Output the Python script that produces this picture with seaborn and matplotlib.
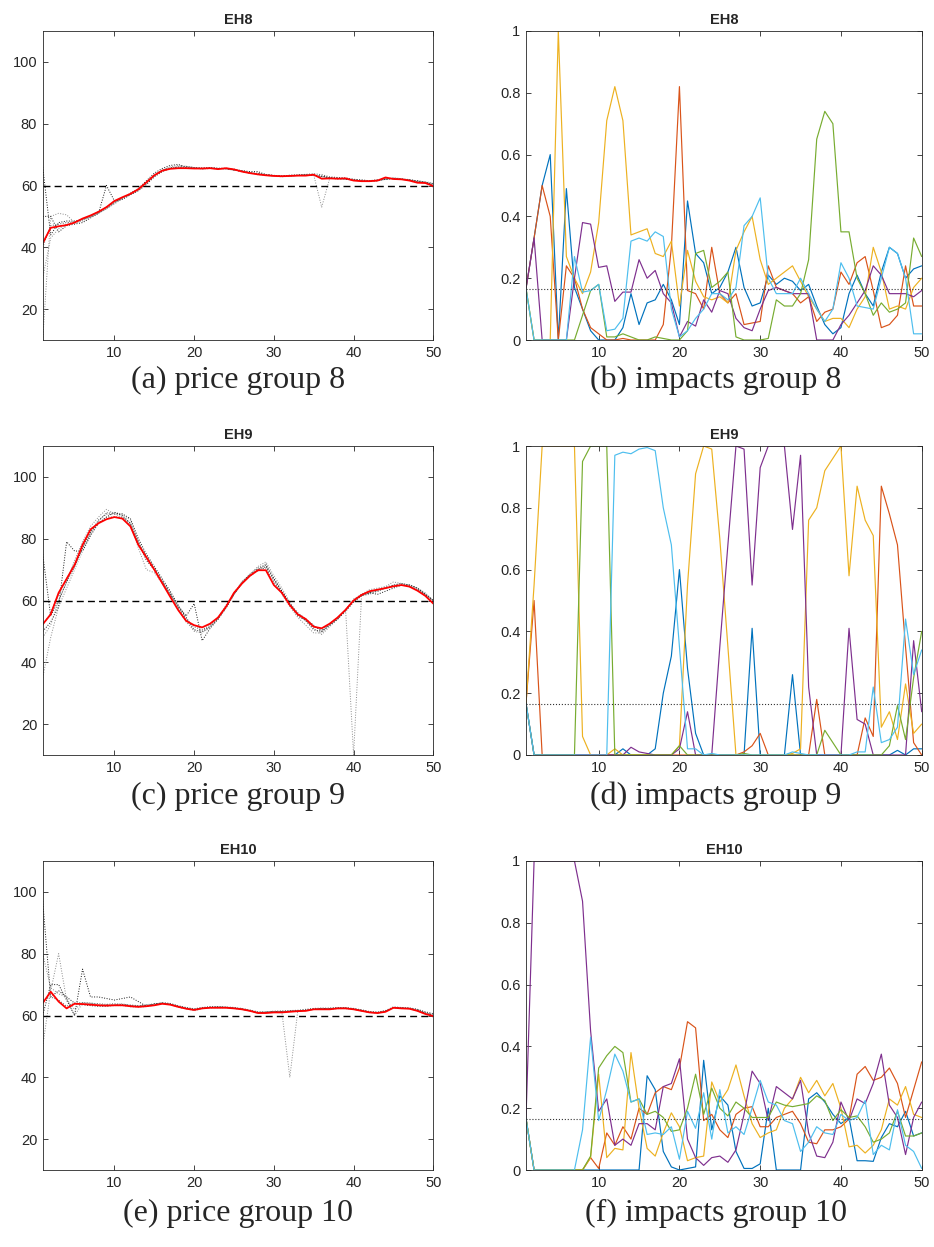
import numpy as np
import pandas as pd
import matplotlib
matplotlib.use("Agg")
import matplotlib.pyplot as plt
import seaborn as sns

# ---------------- data ----------------
periods = list(range(1, 51))
groups = ["EH8", "EH9", "EH10"]
captions_price = ["(a) price group 8", "(c) price group 9", "(e) price group 10"]
captions_imp = ["(b) impacts group 8", "(d) impacts group 9", "(f) impacts group 10"]
target_price = 60
equal_share = 1 / 6

# realised price (red) per group
price_eh8 = [41.3, 46.3, 46.8, 47.2, 48, 49.3, 50.3, 51.5, 53, 55,
             56.2, 57.3, 58.8, 61, 63.3, 64.8, 65.4, 65.6, 65.6, 65.5,
             65.5, 65.6, 65.3, 65.6, 65.2, 64.5, 64, 63.6, 63.3, 63.1,
             63, 63.1, 63.2, 63.2, 63.5, 62.2, 62.3, 62.2, 62.3, 61.6,
             61.4, 61.4, 61.6, 62.6, 62.1, 62, 61.6, 60.9, 60.8, 59.8]
price_eh9 = [52.3, 55.5, 62.5, 67, 71.5, 78, 83, 85, 86.3, 87,
             86.5, 84, 78, 74, 70, 65.6, 61.2, 56.9, 53.4, 52,
             51.3, 52.5, 54.5, 58, 62.5, 65.5, 68, 69.8, 69.8, 65,
             62.5, 58.5, 55.5, 54, 51.5, 51, 52.5, 54.5, 57, 60,
             61.8, 63, 63.5, 64, 64.6, 65, 64.5, 63.2, 61.5, 59]
price_eh10 = [64, 67.7, 64.5, 62.3, 63.8, 63.7, 63.5, 63.3, 63.2, 63.3,
              63.3, 63, 62.8, 63, 63.3, 63.8, 63.5, 62.8, 62.2, 61.8,
              62.3, 62.5, 62.5, 62.5, 62.3, 62, 61.5, 60.8, 60.8, 61,
              61, 61.2, 61.4, 61.5, 62, 62, 62, 62.3, 62.3, 62,
              61.5, 61, 60.8, 61.2, 62.5, 62.3, 62.2, 61.5, 60.5, 59.8]

# individual forecasts (dotted)
fc_eh8 = [
    [66, 44, 48, 48.5, 48.5, 49, 50, 51.5, 53, 54.5, 56, 57.5, 59, 61.5, 64, 65.5, 66.5, 66.8, 66, 65.8,
     65.6, 65.8, 65.6, 65.5, 65, 64.8, 64.5, 64.5, 63.5, 63.2, 63, 63.3, 63.3, 63.5, 63.2, 63, 62.5, 62.5, 62.2, 62,
     61.8, 61.5, 61.8, 62, 62.2, 62, 61.8, 61.5, 61, 60.5],
    [10, 50, 51, 50.5, 48, 48.5, 49.8, 51, 52.5, 54, 55.8, 57, 58.5, 60.5, 63, 65, 66, 66.5, 66.2, 65.8,
     65.3, 65.5, 65.5, 65.3, 65, 64.8, 64.2, 63.5, 63.3, 63, 62.8, 63, 63.2, 63.5, 63.3, 62.8, 62.5, 62, 62, 61.8,
     61.5, 61.5, 61.6, 62, 62.5, 62.2, 61.8, 61.5, 61.2, 60.8],
    [50, 50, 45, 47, 47.5, 48, 49.5, 51, 60, 55, 55.5, 57, 58.3, 60.3, 62.8, 64.5, 65.5, 66, 65.8, 65.6,
     65.4, 65.6, 65.5, 65.4, 65, 64.5, 64, 63.8, 63.5, 63.2, 63, 63, 63.3, 63.4, 63.3, 63, 62.5, 62.3, 62, 61.8,
     61.5, 61.3, 61.5, 62, 62.3, 62, 61.8, 61.2, 61, 60.3],
    [30, 43, 46, 47.5, 47.8, 48.8, 50, 51.2, 52.6, 54.3, 55.8, 57, 58.5, 60.8, 63, 64.8, 65.5, 65.8, 65.7, 65.6,
     65.5, 65.5, 65.4, 65.5, 65.2, 64.6, 64, 63.8, 63.3, 63, 63, 63, 63.2, 63.4, 63.4, 53, 62.3, 62.2, 62.2, 61.7,
     61.5, 61.4, 61.5, 62.2, 62.3, 62, 61.7, 61.2, 60.9, 60],
    [40, 47, 47.5, 48, 48.2, 49, 50, 51, 52.5, 54.5, 56, 57.2, 58.8, 61, 63.4, 65, 65.8, 66, 66.2, 65.8,
     65.7, 65.8, 65.5, 65.6, 65.3, 64.8, 64.2, 64, 63.6, 63.3, 63.1, 63.3, 63.5, 63.6, 63.8, 63.5, 62.8, 62.6, 62.5, 62,
     61.7, 61.6, 61.8, 62.2, 62.4, 62.2, 61.9, 61.5, 61.1, 60.5],
]
fc_eh9 = [
    [75, 55, 60, 66, 71, 77, 82, 86, 88, 88, 88, 86.5, 80, 75, 71, 67, 63, 58.5, 54.5, 50.5,
     50, 51.5, 54, 57.5, 62, 65.5, 68, 70, 71, 67, 63, 59, 56, 54, 52, 50, 52, 54, 56.5, 59.5,
     61.5, 62.5, 63, 64, 65, 65.5, 65, 64, 62, 60],
    [35, 48, 58, 64, 70, 76, 81.5, 85.5, 88.5, 88.5, 88, 86, 79, 74, 70, 66, 62, 57.5, 53.5, 50,
     49.5, 51.5, 54.5, 58.5, 62.5, 66, 68.5, 71, 72.5, 68, 64, 59.5, 55.5, 53.5, 51, 49, 51.5, 54, 57, 10,
     61.5, 62, 63, 64.5, 65, 65.5, 65, 64, 62.5, 60],
    [50, 53, 58, 79, 76, 76, 81, 85, 87, 88.5, 87.5, 85, 79, 73, 70, 66, 62, 58, 55, 59,
     47, 51, 54, 58, 62, 66, 68.5, 70.5, 71.5, 67, 63, 59, 55, 53.5, 50.5, 50, 52, 54, 57, 60,
     62, 62.5, 62, 63, 64, 65, 65, 64, 62, 60],
    [48, 52, 60, 66, 73, 79, 84, 87, 89.5, 88, 87, 85, 77, 70, 69, 65.5, 61.5, 57, 53, 50.5,
     50, 51, 54, 58, 62, 66, 68, 69.5, 72, 66.5, 62, 58, 54.5, 52, 49.5, 49.5, 52, 54.5, 57, 60.5,
     62, 63.5, 64, 64.5, 66, 65.5, 64.5, 63.5, 62, 60],
    [52, 56, 62, 67, 72, 77, 82.5, 85, 87, 87, 87, 84.5, 78.5, 74.5, 70.5, 66.5, 62.5, 58, 54, 51.5,
     50.5, 52, 54.5, 58, 62, 65.5, 68, 70, 70.5, 66, 62.5, 58.5, 55.5, 53.5, 51.5, 50.5, 52.5, 54.5, 57, 60,
     61.5, 62.5, 63.5, 64, 64.5, 65, 64.5, 63.5, 61.5, 59.5],
]
fc_eh10 = [
    [97, 66, 68, 66, 64, 63.5, 63.2, 63, 63, 63.4, 63.5, 63.2, 63, 63.2, 63.5, 64, 63.8, 63, 62.5, 62,
     62.5, 62.8, 62.8, 62.6, 62.5, 62, 61.5, 61, 61, 61.2, 61.3, 61.4, 61.5, 61.8, 62.2, 62.2, 62.3, 62.5, 62.5, 62.2,
     61.8, 61.2, 61, 61.5, 62.5, 62.5, 62.3, 62, 61, 60.5],
    [50, 68, 80, 65, 62, 64, 64, 63.5, 63.5, 63.5, 63.8, 63.2, 63, 63.5, 63.8, 64, 63.6, 63, 62.3, 62,
     62.4, 62.6, 62.8, 62.7, 62.4, 62.2, 61.5, 61, 61.2, 61.3, 61.2, 40, 61.5, 61.7, 62, 62.2, 62.1, 62.4, 62.2, 62,
     61.4, 61, 61, 61.5, 62.6, 62.5, 62.4, 61.8, 60.8, 60.2],
    [60, 70, 70, 65, 60, 75, 66, 66, 65.5, 65, 65.5, 66, 64.5, 63, 63.8, 64, 63.6, 62.7, 62.2, 61.8,
     62.3, 62.5, 62.6, 62.6, 62.3, 62, 61.5, 60.8, 61, 61.2, 61.2, 61.4, 61.5, 61.6, 62, 62.3, 62.2, 62.3, 62.4, 62.1,
     61.6, 61, 60.8, 61.3, 62.6, 62.4, 62.2, 61.6, 60.8, 60],
    [80, 69, 67, 66, 60, 64, 63.8, 63.3, 63, 63.2, 63.2, 62.8, 62.7, 62.9, 63.3, 63.8, 63.6, 62.9, 62.3, 61.5,
     62.2, 62.6, 62.5, 62.5, 62.4, 62.1, 61.6, 60.9, 60.9, 61.1, 61.1, 61.3, 61.5, 61.6, 62, 62.1, 62, 62.2, 62.3, 62,
     61.5, 61, 60.7, 61.3, 62.5, 62.3, 62.2, 61.5, 60.6, 60],
    [65, 66, 65, 63, 64, 64.2, 64, 63.8, 63.6, 63.8, 63.6, 63.4, 63.2, 63.4, 63.6, 64.2, 63.9, 63.2, 62.6, 62.2,
     62.6, 62.8, 62.9, 62.8, 62.6, 62.3, 61.8, 61.2, 61.2, 61.4, 61.5, 61.6, 61.7, 62, 62.3, 62.4, 62.4, 62.6, 62.5, 62.3,
     61.8, 61.3, 61.1, 61.6, 62.8, 62.6, 62.5, 62, 61.2, 60.6],
]

# impacts of the six heuristics
rules = ["ADA", "WTR", "STR", "LAA", "TF2", "TF3"]
imp_eh8 = {
    "ADA": [.167, .33, .50, .60, 0, .49, .17, .10, .03, 0, 0, 0, .04, .15, .05, .12, .13, .18, .13, .05,
            .45, .28, .25, .15, .17, .22, .30, .17, .11, .12, .21, .18, .20, .19, .16, .18, .11, .05, .02, .04,
            .15, .21, .15, .11, .22, .30, .28, .20, .23, .24],
    "WTR": [.167, .33, .50, .40, 0, .24, .20, .10, .04, .02, 0, 0, .005, 0, 0, 0, 0, .05, .30, .82,
            .16, .15, .10, .30, .15, .12, .15, .05, .055, .06, .24, .17, .16, .15, .12, .14, .06, .09, .10, .22,
            .18, .25, .27, .16, .04, .05, .08, .24, .11, .11],
    "STR": [.167, 0, 0, 0, 1.0, .27, .20, .15, .22, .38, .71, .82, .71, .34, .35, .36, .28, .27, .32, .11,
            .29, .19, .14, .13, .14, .12, .29, .35, .40, .26, .18, .20, .22, .24, .19, .14, .10, .06, .07, .07,
            .04, .10, .14, .30, .22, .10, .11, .10, .17, .20],
    "LAA": [.167, .33, 0, 0, 0, 0, .20, .38, .375, .235, .24, .125, .155, .155, .26, .20, .225, .15, .12, .01,
            .06, .045, .13, .09, .16, .15, .07, .04, .03, .10, .16, .17, .16, .15, .15, .15, 0, 0, 0, .05,
            .08, .12, .16, .24, .21, .15, .15, .15, .14, .16],
    "TF2": [.167, 0, 0, 0, 0, 0, 0, .08, .16, .18, .01, .01, .02, .01, 0, 0, .01, .005, 0, 0,
            .03, .28, .29, .17, .19, .22, .01, 0, 0, 0, .005, .13, .11, .11, .15, .26, .65, .74, .70, .35,
            .35, .20, .15, .08, .12, .09, .10, .12, .33, .27],
    "TF3": [.167, 0, 0, 0, 0, 0, .27, .155, .16, .18, .03, .035, .07, .32, .33, .32, .35, .335, .10, .01,
            .03, .07, .10, .15, .15, .13, .17, .37, .40, .46, .20, .15, .15, .15, .20, .15, .10, .06, .10, .25,
            .20, .11, .105, .10, .20, .30, .28, .20, .02, .02],
}
imp_eh9 = {
    "ADA": [.167, 0, 0, 0, 0, 0, 0, 0, 0, 0, 0, 0, .02, 0, 0, 0, .02, .20, .32, .60,
            .28, .07, 0, 0, 0, 0, 0, 0, .41, 0, 0, 0, 0, .26, 0, 0, 0, 0, 0, 0,
            0, 0, 0, 0, 0, 0, .015, 0, .02, .02],
    "WTR": [.167, .50, 0, 0, 0, 0, 0, 0, 0, 0, 0, 0, 0, 0, 0, 0, 0, 0, 0, 0,
            0, 0, 0, 0, 0, 0, 0, .01, .03, .07, 0, 0, 0, 0, 0, 0, .18, 0, 0, 0,
            0, 0, .12, .06, .87, .78, .68, .35, .04, 0],
    "STR": [.167, .55, 1, 1, 1, 1, 1, .06, 0, 0, 0, .02, 0, 0, 0, 0, 0, 0, 0, .03,
            .55, .91, 1, .99, .70, .35, 0, 0, 0, 0, 0, 0, 0, .005, .02, .76, .80, .92, .96, 1,
            .58, .87, .76, .71, .09, .14, .05, .23, .07, .10],
    "LAA": [.167, 0, 0, 0, 0, 0, 0, 0, 0, 0, 0, 0, 0, .025, .01, .005, 0, 0, 0, .02,
            .14, 0, 0, 0, .35, .68, 1, .99, .55, .93, 1, 1, 1, .73, .97, .22, 0, 0, 0, 0,
            .41, .115, .10, 0, 0, 0, 0, 0, .37, .14],
    "TF2": [.167, 0, 0, 0, 0, 0, 0, .95, 1, 1, 1, 0, 0, 0, 0, 0, 0, 0, 0, .03,
            0, 0, 0, 0, 0, 0, 0, .005, 0, 0, 0, 0, 0, 0, 0, 0, 0, .08, .04, 0,
            0, 0, 0, 0, 0, .03, .16, .05, .25, .40],
    "TF3": [.167, 0, 0, 0, 0, 0, 0, 0, 0, 0, 0, .97, .98, .975, .99, .995, .985, .80, .68, .35,
            .02, .02, 0, .005, 0, 0, 0, 0, 0, 0, 0, 0, 0, .01, .005, 0, 0, 0, 0, 0,
            0, .01, .01, .22, .04, .05, .09, .44, .26, .34],
}
imp_eh10 = {
    "ADA": [.167, 0, 0, 0, 0, 0, 0, 0, 0, 0, 0, 0, 0, 0, 0, .305, .26, .06, .01, 0,
            .005, .01, .355, .13, .24, .21, .06, .005, .005, .02, .20, 0, 0, 0, 0, .23, .25, .22, .18, .15,
            .17, .03, .03, .028, .105, .15, .14, .19, .11, .12],
    "WTR": [.167, 0, 0, 0, 0, 0, 0, 0, .04, .005, .12, .08, .14, .10, .20, .18, .25, .27, .26, .33,
            .48, .46, .16, .18, .13, .105, .18, .20, .205, .14, .14, .17, .18, .19, .15, .09, .085, .13, .13, .14,
            .165, .31, .335, .29, .30, .33, .28, .17, .26, .35],
    "STR": [.167, 0, 0, 0, 0, 0, 0, 0, .04, .31, .04, .07, .065, .38, .20, .07, .045, .12, .185, .14,
            .03, .04, .045, .285, .22, .26, .34, .24, .15, .105, .12, .13, .20, .23, .30, .25, .29, .24, .28, .20,
            .075, .08, .055, .08, .13, .23, .21, .27, .18, .17],
    "LAA": [.167, 1, 1, 1, 1, 1, 1, .87, .45, .19, .23, .08, .10, .08, .15, .15, .13, .27, .28, .36,
            .10, .04, .015, .04, .045, .025, .065, .18, .32, .28, .16, .27, .25, .23, .29, .12, .045, .04, .09, .22,
            .16, .23, .215, .28, .375, .21, .17, .05, .17, .22],
    "TF2": [.167, 0, 0, 0, 0, 0, 0, 0, .045, .33, .37, .40, .38, .22, .23, .18, .19, .17, .125, .13,
            .20, .31, .18, .265, .20, .175, .22, .20, .17, .17, .17, .22, .21, .205, .21, .215, .24, .225, .16, .195,
            .17, .175, .14, .09, .10, .12, .19, .11, .11, .12],
    "TF3": [.167, 0, 0, 0, 0, 0, 0, .13, .43, .16, .26, .375, .32, .22, .23, .115, .12, .115, .14, .035,
            .19, .135, .25, .10, .26, .12, .14, .115, .20, .29, .22, .21, .16, .15, .06, .09, .14, .12, .115, .18,
            .16, .17, .225, .05, .08, .065, .195, .08, .06, .005],
}

prices = [price_eh8, price_eh9, price_eh10]
forecasts = [fc_eh8, fc_eh9, fc_eh10]
impacts = [imp_eh8, imp_eh9, imp_eh10]

# ---------------- style ----------------
sns.set_theme(style="ticks")
plt.rcParams["font.family"] = ["Liberation Sans", "DejaVu Sans"]
plt.rcParams["axes.edgecolor"] = "#262626"
plt.rcParams["axes.linewidth"] = 0.6
plt.rcParams["xtick.color"] = "#262626"
plt.rcParams["ytick.color"] = "#262626"

matlab_colors = ["#0072BD", "#D95319", "#EDB120", "#7E2F8E", "#77AC30", "#4DBEEE"]
fc_colors = ["#1a1a1a", "#8c8c8c", "#1a1a1a", "#8c8c8c", "#555555"]

fig = plt.figure(figsize=(9.34, 12.47), dpi=100)

W, H = 934, 1247
rows_top = [31, 446, 861]
ax_h = 309
left_x = (42.7, 433.3)
right_x = (526, 921.7)
cap_y = [380, 796, 1213]


def style_axes(ax, title):
    ax.set_xlim(1, 50)
    ax.set_xticks([10, 20, 30, 40, 50])
    ax.tick_params(direction="in", length=3.6, width=0.6, top=True, right=True,
                   labelsize=10.5, pad=4)
    ax.set_xlabel("")
    ax.set_ylabel("")
    ax.set_title(title, fontsize=10.5, fontweight="bold", pad=5)
    for s in ax.spines.values():
        s.set_visible(True)


for i, g in enumerate(groups):
    top = rows_top[i]
    bottom = (H - top - ax_h) / H

    # price panel
    axp = fig.add_axes([left_x[0] / W, bottom, (left_x[1] - left_x[0]) / W, ax_h / H])
    for j, fc in enumerate(forecasts[i]):
        sns.lineplot(x=periods, y=fc, ax=axp, color=fc_colors[j], linewidth=0.7,
                     dashes=False, legend=False).lines[-1].set_dashes((1, 1.6))
    axp.axhline(target_price, color="black", linestyle="--", linewidth=1.0, dashes=(5, 3))
    sns.lineplot(x=periods, y=prices[i], ax=axp, color="red", linewidth=1.3, legend=False)
    axp.set_ylim(10, 110)
    axp.set_yticks([20, 40, 60, 80, 100])
    style_axes(axp, g)

    # impact panel
    axi = fig.add_axes([right_x[0] / W, bottom, (right_x[1] - right_x[0]) / W, ax_h / H])
    df = pd.DataFrame([(t, r, v) for r in rules for t, v in zip(periods, impacts[i][r])],
                      columns=["t", "rule", "impact"])
    sns.lineplot(data=df, x="t", y="impact", hue="rule", hue_order=rules,
                 palette=matlab_colors, linewidth=0.85, ax=axi, legend=False)
    axi.axhline(equal_share, color="#333333", linestyle=":", linewidth=0.8)
    axi.set_ylim(0, 1)
    axi.set_yticks([0, 0.2, 0.4, 0.6, 0.8, 1])
    axi.set_yticklabels(["0", "0.2", "0.4", "0.6", "0.8", "1"])
    style_axes(axi, g)

    fig.text(238 / W, 1 - cap_y[i] / H, captions_price[i], ha="center", va="center",
             fontsize=23, family=["Liberation Serif", "DejaVu Serif"])
    fig.text(716 / W, 1 - cap_y[i] / H, captions_imp[i], ha="center", va="center",
             fontsize=23, family=["Liberation Serif", "DejaVu Serif"])

fig.savefig("out.png", dpi=100)
